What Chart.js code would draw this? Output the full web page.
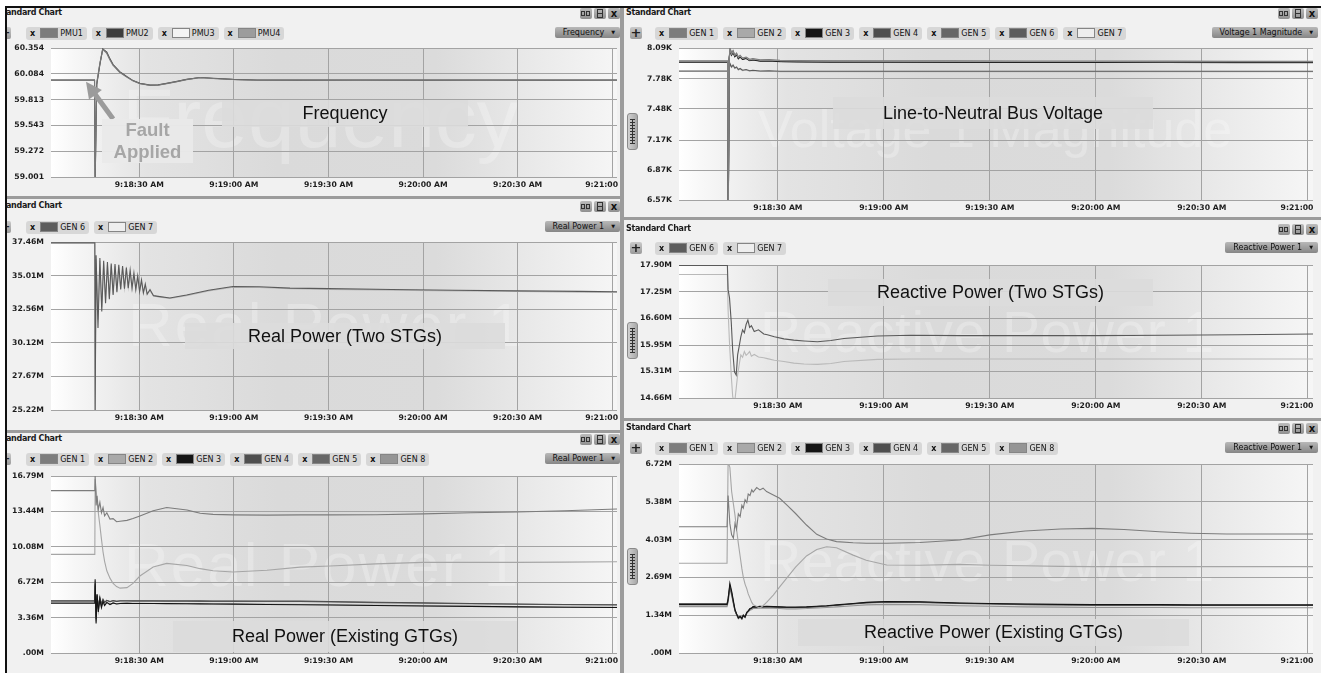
<!DOCTYPE html>
<html>
<head>
<meta charset="utf-8">
<title>Standard Chart</title>
<script src="https://cdn.jsdelivr.net/npm/chart.js@4.4.1/dist/chart.umd.min.js"></script>
<style>
  html, body { margin: 0; padding: 0; }
  body { width: 1321px; height: 673px; position: relative; overflow: hidden; background: #fff;
         font-family: "DejaVu Sans", Verdana, sans-serif; }
  #frame { position: absolute; left: 5px; top: 6px; right: 0; bottom: 0; background: #9c9c9c;
           border-left: 2px solid #111; border-top: 2px solid #111; }
  .panel { position: absolute; background: #f1f1f1; overflow: hidden; }
  .panel > div, .panel > canvas { position: absolute; }
  .plotbg { background: linear-gradient(to right, #ffffff 0%, #f7f7f7 4%, #e3e3e3 17%, #dadada 40%, #dbdbdb 68%, #f6f6f6 100%); }
  .mark { font-family: "Liberation Sans", Arial, sans-serif; color: rgba(255,255,255,0.26); white-space: nowrap; }
  .note { background: rgba(220,220,220,0.9); display: flex; align-items: center; justify-content: center;
          font-family: "Liberation Sans", Arial, sans-serif; font-size: 18px; color: #111; white-space: nowrap; }
  .note.fault { background: rgba(233,233,233,0.96); color: #a6a6a6; font-weight: bold; font-size: 18.5px;
                line-height: 22px; text-align: center; }
  .title { font-size: 8px; font-weight: bold; letter-spacing: -0.3px; color: #1a1a1a; line-height: 10px; white-space: nowrap; }
  .icons { display: flex; gap: 2px; }
  .ic { display: block; width: 12px; height: 11px; background: linear-gradient(#bcbcbc, #8f8f8f); border-radius: 2px;
        position: relative; font-style: normal; }
  .ic1::before, .ic1::after { content: ''; position: absolute; top: 3px; width: 2px; height: 3px; border: 1px solid #333; }
  .ic1::before { left: 1px; } .ic1::after { left: 6px; }
  .ic2::before { content: ''; position: absolute; left: 3px; top: 1px; width: 4px; height: 7px; border: 1px solid #333; }
  .ic2::after { content: ''; position: absolute; left: 3px; top: 5px; width: 6px; height: 1px; background: #333; }
  .ic3 { font: bold 10px/11px "DejaVu Sans", sans-serif; text-align: center; color: #111; }
  .plus { width: 12px; height: 12px; background: linear-gradient(#cacaca, #9a9a9a); border-radius: 2px;
          font: bold 13px/12px "DejaVu Sans", sans-serif; text-align: center; color: #222; }
  .chips { display: flex; white-space: nowrap; }
  .chip { display: inline-flex; align-items: center; height: 13px; padding: 0 4px; margin-right: 5px;
          background: #d7d7d7; border-radius: 3px; font-size: 8px; color: #111; }
  .chip b { font-size: 8px; margin-right: 5px; }
  .chip i { display: inline-block; width: 18px; height: 10px; border: 1px solid #858585; box-sizing: border-box; margin-right: 2px; }
  .dd { height: 11px; padding: 0 5px 0 8px; background: linear-gradient(#b8b8b8, #868686); border-radius: 2px;
        font-size: 8px; line-height: 11px; color: #111; white-space: nowrap; }
  .dd span { font-size: 5px; margin-left: 7px; vertical-align: 1px; }
  .ruler { width: 9px; height: 35px; background: linear-gradient(to right, #d0d0d0, #a8a8a8);
           border: 1px solid #8a8a8a; border-radius: 3px; }
  .ruler i { position: absolute; left: 2px; top: 5px; width: 5px; height: 25px;
             background: repeating-linear-gradient(to bottom, #333 0 1px, transparent 1px 3px); }
  .ruler i::before { content: ''; position: absolute; left: 2px; top: 0; width: 1px; height: 100%; background: #333; }
</style>
</head>
<body>
<div id="frame"></div>
<script>
// x axis: seconds after 9:18:00 AM
const timeMin = 2, timeMax = 181.5;
const xTickSecs = [30, 60, 90, 120, 150, 180];

// Frequency (PMU)
const freqTicks = ['59.001', '59.272', '59.543', '59.813', '60.084', '60.354'];
const freqTime = [2, 15.8, 16.0, 16.5, 17.5, 18.4, 19.7, 20.7, 21.7, 23.8, 26.0, 28.0, 30.2, 33.4, 36.0, 38.7, 42.0, 45.0, 49.3, 53.4, 59.7, 67.3, 80, 100, 120, 140, 160, 181.5];
const pmu1 = [60.016, 60.016, 58.95, 59.98, 60.19, 60.34, 60.30, 60.23, 60.174, 60.10, 60.051, 60.01, 59.981, 59.963, 59.966, 59.981, 60.002, 60.023, 60.044, 60.034, 60.023, 60.016, 60.016, 60.016, 60.016, 60.016, 60.016, 60.016];
const pmu2 = [60.018, 60.018, 58.95, 59.97, 60.18, 60.345, 60.31, 60.24, 60.18, 60.105, 60.055, 60.012, 59.983, 59.965, 59.967, 59.983, 60.004, 60.025, 60.045, 60.036, 60.025, 60.018, 60.017, 60.018, 60.017, 60.018, 60.017, 60.018];
const pmu3 = [60.014, 60.014, 59.2, 59.99, 60.2, 60.335, 60.295, 60.225, 60.17, 60.098, 60.049, 60.008, 59.979, 59.961, 59.964, 59.979, 60.0, 60.021, 60.042, 60.033, 60.022, 60.015, 60.015, 60.014, 60.015, 60.014, 60.015, 60.014];
const pmu4 = [60.015, 60.015, 59.0, 59.98, 60.19, 60.34, 60.3, 60.23, 60.172, 60.1, 60.05, 60.01, 59.98, 59.962, 59.965, 59.98, 60.001, 60.022, 60.043, 60.034, 60.024, 60.016, 60.016, 60.015, 60.016, 60.015, 60.016, 60.015];

// Real power, two STGs (MW)
const stgRealTicks = ['25.22M', '27.67M', '30.12M', '32.56M', '35.01M', '37.46M'];
const stgRealTime = [2, 15.9, 16.0, 16.3, 16.9, 17.5, 18.1, 18.7, 19.3, 19.9, 20.5, 21.1, 21.7, 22.3, 22.9, 23.5, 24.1, 24.7, 25.3, 25.9, 26.5, 27.1, 27.7, 28.3, 28.9, 29.5, 30.1, 30.7, 31.3, 31.9, 32.5, 33.4, 34.5, 36, 39.7, 45, 52, 59.7, 68, 77.8, 90, 110, 130, 150, 170, 181.5];
const gen6Real = [37.40, 37.40, 25.0, 36.5, 31.2, 36.3, 32.4, 36.1, 33.0, 36.0, 33.3, 35.9, 33.6, 35.85, 33.8, 35.8, 34.0, 35.7, 34.05, 35.6, 34.1, 35.4, 34.1, 35.2, 34.0, 35.0, 33.85, 34.7, 33.75, 34.4, 33.65, 34.0, 33.55, 33.5, 33.38, 33.6, 33.95, 34.22, 34.2, 34.1, 34.06, 34.0, 33.95, 33.9, 33.86, 33.84];
const gen7Real = [37.36, 37.36, 25.0, 36.2, 31.8, 36.1, 32.7, 35.9, 33.2, 35.8, 33.4, 35.75, 33.7, 35.7, 33.9, 35.6, 34.05, 35.5, 34.1, 35.4, 34.15, 35.2, 34.1, 35.0, 34.05, 34.8, 33.9, 34.55, 33.8, 34.25, 33.7, 33.9, 33.55, 33.46, 33.35, 33.55, 33.9, 34.17, 34.15, 34.05, 34.0, 33.95, 33.9, 33.85, 33.8, 33.78];

// Real power, existing GTGs (MW)
const gtgRealTicks = ['.00M', '3.36M', '6.72M', '10.08M', '13.44M', '16.79M'];
const gtgRealTime = [2, 15.9, 16.0, 16.3, 16.6, 17.0, 17.5, 18.0, 18.5, 19.0, 19.7, 20.7, 21.7, 22.8, 23.9, 26.1, 28, 30.2, 34.4, 38.7, 45.1, 49.3, 53.4, 59.7, 70.5, 81, 90.5, 105, 120, 135, 149.8, 165, 181.5];
const gen1Real = [15.40, 15.40, 16.9, 14.0, 14.9, 13.6, 14.3, 13.3, 13.8, 13.0, 13.3, 12.7, 12.75, 12.45, 12.5, 12.58, 12.75, 13.0, 13.5, 13.8, 13.57, 13.25, 13.15, 13.1, 13.08, 13.1, 13.1, 13.12, 13.2, 13.3, 13.38, 13.5, 13.66];
const gen2Real = [9.36, 9.36, 16.5, 15.5, 14.5, 13.3, 12.1, 10.8, 9.6, 8.7, 7.8, 7.1, 6.6, 6.3, 6.15, 6.2, 6.6, 7.3, 8.15, 8.5, 8.3, 8.0, 7.8, 7.68, 7.85, 8.15, 8.25, 8.45, 8.6, 8.6, 8.6, 8.62, 8.65];
const gen3Real = [4.72, 4.72, 7.0, 2.8, 5.6, 3.9, 5.1, 4.3, 4.9, 4.5, 4.8, 4.6, 4.75, 4.65, 4.7, 4.72, 4.7, 4.7, 4.69, 4.68, 4.67, 4.66, 4.65, 4.64, 4.6, 4.58, 4.55, 4.5, 4.46, 4.42, 4.38, 4.34, 4.31];
const gen4Real = [4.96, 4.96, 6.6, 3.2, 5.5, 4.3, 5.3, 4.6, 5.1, 4.8, 5.0, 4.88, 4.98, 4.9, 4.95, 4.96, 4.95, 4.95, 4.95, 4.94, 4.94, 4.94, 4.93, 4.93, 4.93, 4.92, 4.88, 4.82, 4.76, 4.7, 4.65, 4.6, 4.57];
const gen5Real = [4.92, 4.92, 6.4, 3.4, 5.4, 4.4, 5.2, 4.65, 5.05, 4.8, 4.98, 4.87, 4.95, 4.9, 4.93, 4.93, 4.92, 4.92, 4.92, 4.91, 4.91, 4.9, 4.9, 4.9, 4.89, 4.88, 4.84, 4.78, 4.72, 4.67, 4.62, 4.58, 4.55];
const gen8Real = [4.76, 4.76, 6.8, 3.0, 5.5, 4.0, 5.0, 4.4, 4.85, 4.55, 4.78, 4.62, 4.74, 4.67, 4.71, 4.73, 4.71, 4.71, 4.7, 4.69, 4.68, 4.67, 4.66, 4.65, 4.62, 4.6, 4.57, 4.52, 4.48, 4.44, 4.4, 4.36, 4.33];

// Line-to-neutral bus voltage (kV)
const voltTicks = ['6.57K', '6.87K', '7.17K', '7.48K', '7.78K', '8.09K'];
const voltTime = [2, 15.8, 15.95, 16.2, 16.5, 16.9, 17.3, 17.8, 18.3, 18.8, 19.3, 20.0, 21.0, 22.0, 22.9, 25, 27.5, 30.6, 35.4, 45, 60, 80, 100, 120, 140, 160, 181.5];
const gen1Volt = [7.963, 7.963, 6.40, 8.00, 8.085, 8.04, 8.065, 8.02, 8.04, 8.0, 8.018, 7.99, 8.0, 7.978, 7.985, 7.972, 7.975, 7.967, 7.965, 7.963, 7.962, 7.961, 7.96, 7.96, 7.959, 7.958, 7.957];
const gen2Volt = [7.957, 7.957, 6.40, 7.99, 8.08, 8.03, 8.06, 8.015, 8.035, 7.995, 8.012, 7.985, 7.995, 7.972, 7.98, 7.967, 7.97, 7.962, 7.96, 7.958, 7.957, 7.956, 7.955, 7.955, 7.954, 7.953, 7.952];
const gen3Volt = [7.95, 7.95, 6.40, 7.98, 8.07, 8.02, 8.05, 8.005, 8.025, 7.985, 8.003, 7.977, 7.987, 7.965, 7.972, 7.96, 7.962, 7.955, 7.953, 7.951, 7.95, 7.949, 7.948, 7.948, 7.947, 7.946, 7.945];
const gen4Volt = [7.948, 7.948, 6.40, 7.98, 8.07, 8.02, 8.048, 8.003, 8.022, 7.983, 8.0, 7.975, 7.985, 7.963, 7.97, 7.958, 7.96, 7.953, 7.951, 7.949, 7.948, 7.947, 7.946, 7.946, 7.945, 7.944, 7.943];
const gen5Volt = [7.955, 7.955, 6.40, 7.99, 8.075, 8.03, 8.055, 8.01, 8.03, 7.99, 8.008, 7.982, 7.992, 7.97, 7.977, 7.965, 7.967, 7.96, 7.958, 7.956, 7.955, 7.954, 7.953, 7.953, 7.952, 7.951, 7.95];
const gen6Volt = [7.86, 7.86, 6.40, 7.88, 7.93, 7.90, 7.92, 7.89, 7.90, 7.875, 7.885, 7.868, 7.875, 7.862, 7.868, 7.86, 7.862, 7.858, 7.858, 7.858, 7.858, 7.858, 7.858, 7.858, 7.858, 7.858, 7.858];
const gen7Volt = [7.855, 7.855, 6.40, 7.875, 7.925, 7.895, 7.915, 7.885, 7.895, 7.87, 7.88, 7.863, 7.87, 7.858, 7.863, 7.855, 7.857, 7.853, 7.853, 7.853, 7.853, 7.853, 7.853, 7.853, 7.853, 7.853, 7.853];

// Reactive power, two STGs (MVAr)
const stgReactTicks = ['14.66M', '15.31M', '15.95M', '16.60M', '17.25M', '17.90M'];
const stgReactTime = [2, 15.7, 15.9, 16.3, 16.8, 17.2, 17.7, 18.2, 18.6, 19.1, 19.5, 20.0, 20.5, 21.0, 21.5, 22.0, 22.5, 23.3, 24.5, 26, 27, 29, 31.7, 34.5, 37.4, 41.2, 45, 48.7, 58.2, 67.6, 81.8, 100, 119, 140, 160, 181.5];
const gen6React = [17.89, 17.89, 17.3, 17.1, 16.5, 15.82, 15.30, 15.22, 15.71, 15.95, 16.15, 16.32, 16.25, 16.45, 16.56, 16.38, 16.42, 16.28, 16.32, 16.22, 16.2, 16.15, 16.1, 16.07, 16.05, 16.03, 16.06, 16.11, 16.17, 16.19, 16.18, 16.18, 16.18, 16.19, 16.2, 16.22];
const gen7React = [17.67, 17.67, 16.8, 16.0, 15.2, 14.7, 14.5, 14.9, 15.22, 15.5, 15.71, 15.65, 15.79, 15.7, 15.74, 15.79, 15.68, 15.72, 15.66, 15.64, 15.62, 15.58, 15.55, 15.51, 15.49, 15.48, 15.5, 15.55, 15.6, 15.61, 15.61, 15.61, 15.61, 15.61, 15.61, 15.61];

// Reactive power, existing GTGs (MVAr)
const gtgReactTicks = ['.00M', '1.34M', '2.69M', '4.03M', '5.38M', '6.72M'];
const gtgReactTime = [2, 15.6, 15.9, 16.4, 16.9, 17.4, 17.85, 18.3, 18.8, 19.3, 19.8, 20.2, 20.7, 21.2, 21.6, 22.1, 22.6, 23.0, 24.0, 24.9, 25.8, 26.8, 28.7, 30.5, 32.5, 35, 38.1, 41, 43.8, 46.6, 51.3, 55, 60.8, 70.2, 81.5, 90, 100, 110, 119, 128, 138, 147, 157, 170, 181.5];
const gen1React = [4.49, 4.49, 5.6, 4.6, 4.2, 4.08, 4.6, 4.4, 4.95, 4.85, 5.25, 5.15, 5.45, 5.35, 5.65, 5.6, 5.8, 5.72, 5.88, 5.8, 5.86, 5.74, 5.62, 5.5, 5.27, 4.96, 4.55, 4.22, 4.05, 3.96, 3.92, 3.90, 3.90, 3.93, 4.02, 4.2, 4.34, 4.41, 4.43, 4.39, 4.31, 4.26, 4.23, 4.23, 4.23];
const gen2React = [3.19, 3.19, 6.8, 6.6, 5.74, 5.3, 4.9, 4.4, 3.9, 3.45, 3.0, 2.7, 2.45, 2.28, 2.1, 1.95, 1.8, 1.72, 1.65, 1.60, 1.68, 1.80, 2.06, 2.35, 2.66, 3.05, 3.45, 3.68, 3.78, 3.74, 3.48, 3.3, 3.13, 3.12, 3.15, 3.12, 3.1, 3.08, 3.07, 3.07, 3.07, 3.07, 3.07, 3.07, 3.07];
const gen3React = [1.73, 1.73, 1.9, 2.48, 2.2, 1.85, 1.55, 1.4, 1.25, 1.3, 1.23, 1.35, 1.28, 1.45, 1.5, 1.58, 1.6, 1.65, 1.64, 1.66, 1.65, 1.66, 1.65, 1.64, 1.63, 1.63, 1.64, 1.66, 1.68, 1.71, 1.76, 1.8, 1.83, 1.82, 1.78, 1.76, 1.74, 1.73, 1.72, 1.72, 1.72, 1.71, 1.71, 1.71, 1.71];
const gen4React = [1.75, 1.75, 1.95, 2.4, 2.15, 1.8, 1.5, 1.36, 1.22, 1.28, 1.2, 1.32, 1.26, 1.42, 1.48, 1.56, 1.6, 1.64, 1.63, 1.65, 1.64, 1.65, 1.64, 1.63, 1.62, 1.62, 1.63, 1.65, 1.67, 1.7, 1.75, 1.79, 1.82, 1.81, 1.77, 1.75, 1.73, 1.72, 1.71, 1.71, 1.71, 1.7, 1.7, 1.7, 1.7];
const gen5React = [1.71, 1.71, 1.85, 2.35, 2.1, 1.78, 1.52, 1.38, 1.27, 1.31, 1.25, 1.34, 1.3, 1.44, 1.5, 1.57, 1.6, 1.64, 1.63, 1.65, 1.64, 1.65, 1.64, 1.63, 1.62, 1.62, 1.63, 1.65, 1.67, 1.7, 1.74, 1.78, 1.81, 1.8, 1.76, 1.74, 1.72, 1.71, 1.7, 1.7, 1.7, 1.69, 1.69, 1.69, 1.69];
const gen8React = [1.65, 1.65, 1.8, 2.3, 2.05, 1.75, 1.5, 1.38, 1.28, 1.3, 1.27, 1.33, 1.31, 1.42, 1.47, 1.52, 1.55, 1.58, 1.58, 1.6, 1.59, 1.6, 1.59, 1.58, 1.57, 1.57, 1.58, 1.6, 1.62, 1.64, 1.68, 1.71, 1.73, 1.72, 1.68, 1.66, 1.64, 1.63, 1.62, 1.62, 1.62, 1.61, 1.61, 1.61, 1.61];

// legend names
const pmuNames = ['PMU1', 'PMU2', 'PMU3', 'PMU4'];
const stgNames = ['GEN 6', 'GEN 7'];
const gtgNames = ['GEN 1', 'GEN 2', 'GEN 3', 'GEN 4', 'GEN 5', 'GEN 8'];
const voltNames = ['GEN 1', 'GEN 2', 'GEN 3', 'GEN 4', 'GEN 5', 'GEN 6', 'GEN 7'];

// styles
const pmuLine = ['#777777', '#4a4a4a', '#cfcfcf', '#9a9a9a'];
const pmuSwatch = ['#7b7b7b', '#3d3d3d', '#f4f4f4', '#9c9c9c'];
const genLine = { 'GEN 1': '#7c7c7c', 'GEN 2': '#a6a6a6', 'GEN 3': '#151515', 'GEN 4': '#4d4d4d',
                  'GEN 5': '#656565', 'GEN 6': '#5a5a5a', 'GEN 7': '#b9b9b9', 'GEN 8': '#939393' };
const genSwatch = { 'GEN 1': '#7d7d7d', 'GEN 2': '#a9a9a9', 'GEN 3': '#151515', 'GEN 4': '#4f4f4f',
                    'GEN 5': '#676767', 'GEN 6': '#5d5d5d', 'GEN 7': '#eeeeee', 'GEN 8': '#959595' };

const tickFont = { family: 'DejaVu Sans', size: 7.7, weight: 'bold' };
const gridColor = '#a3a3a3';

// "Fault Applied" arrow, in data units of the frequency chart
const faultArrow = { from: [21.7, 59.61], to: [13.1, 60.0] };

const arrowPlugin = {
  id: 'faultArrow',
  afterDatasetsDraw(chart) {
    const { ctx, scales } = chart;
    const x1 = scales.x.getPixelForValue(faultArrow.from[0]);
    const y1 = scales.y.getPixelForValue(faultArrow.from[1]);
    const x2 = scales.x.getPixelForValue(faultArrow.to[0]);
    const y2 = scales.y.getPixelForValue(faultArrow.to[1]);
    const a = Math.atan2(y2 - y1, x2 - x1);
    const c = Math.cos(a), s = Math.sin(a);
    ctx.save();
    ctx.strokeStyle = '#9b9b9b';
    ctx.fillStyle = '#9b9b9b';
    ctx.lineWidth = 5;
    ctx.beginPath();
    ctx.moveTo(x1, y1);
    ctx.lineTo(x2 - 12 * c, y2 - 12 * s);
    ctx.stroke();
    ctx.beginPath();
    ctx.moveTo(x2, y2);
    ctx.lineTo(x2 - 16 * c - 8 * s, y2 - 16 * s + 8 * c);
    ctx.lineTo(x2 - 16 * c + 8 * s, y2 - 16 * s - 8 * c);
    ctx.closePath();
    ctx.fill();
    ctx.restore();
  }
};

function clockLabel(sec, last) {
  const total = 9 * 3600 + 18 * 60 + sec;
  const h = Math.floor(total / 3600);
  const m = String(Math.floor(total / 60) % 60).padStart(2, '0');
  const s = String(total % 60).padStart(2, '0');
  // the right-most label is cut short in the original, sitting left of its grid line
  return last ? `${h}:${m}:${s}\u2007\u2007\u2007\u2007` : `${h}:${m}:${s} AM`;
}

const panels = [
  { box: [7, 8, 613, 188], plot: [51, 48, 617, 177], titleX: -10, hy: 5, ly: 25, plusX: -8, chipX: 19, edge: 0,
    dropdown: 'Frequency', rulerY: null, names: pmuNames, swatches: pmuSwatch, colors: pmuLine,
    times: freqTime, series: [pmu1, pmu2, pmu3, pmu4], ticks: freqTicks, arrow: true,
    mark: { text: 'Frequency', x: 122, y: 76, size: 84, ls: 0 },
    notes: [{ text: 'Frequency', x: 222, y: 100, w: 246, h: 27 },
            { text: 'Fault<br>Applied', x: 102, y: 119, w: 91, h: 44, cls: 'fault' }] },
  { box: [7, 199, 613, 231], plot: [51, 242, 617, 410], titleX: -10, hy: 7, ly: 28, plusX: -8, chipX: 19, edge: 0,
    dropdown: 'Real Power 1', rulerY: null, names: stgNames,
    times: stgRealTime, series: [gen6Real, gen7Real], ticks: stgRealTicks,
    mark: { text: 'Real Power 1', x: 128, y: 294, size: 62, ls: 2 },
    notes: [{ text: 'Real Power (Two STGs)', x: 185, y: 323, w: 320, h: 26 }] },
  { box: [7, 433, 613, 240], plot: [51, 476, 617, 653], titleX: -10, hy: 6, ly: 26, plusX: -8, chipX: 19, edge: 0,
    dropdown: 'Real Power 1', rulerY: null, names: gtgNames,
    times: gtgRealTime, series: [gen1Real, gen2Real, gen3Real, gen4Real, gen5Real, gen8Real], ticks: gtgRealTicks,
    mark: { text: 'Real Power 1', x: 124, y: 534, size: 62, ls: 2 },
    notes: [{ text: 'Real Power (Existing GTGs)', x: 173, y: 621, w: 344, h: 31 }] },
  { box: [624, 8, 697, 209], plot: [679, 48, 1313, 200], titleX: 2, hy: 5, ly: 25, plusX: 6, chipX: 31, edge: 3,
    dropdown: 'Voltage 1 Magnitude', rulerY: 105, names: voltNames,
    times: voltTime, series: [gen1Volt, gen2Volt, gen3Volt, gen4Volt, gen5Volt, gen6Volt, gen7Volt], ticks: voltTicks,
    mark: { text: 'Voltage 1 Magnitude', x: 758, y: 103, size: 52, ls: 0 },
    notes: [{ text: 'Line-to-Neutral Bus Voltage', x: 833, y: 97, w: 320, h: 32 }] },
  { box: [624, 220, 697, 198], plot: [679, 265, 1313, 398], titleX: 2, hy: 9, ly: 28, plusX: 6, chipX: 31, edge: 3,
    dropdown: 'Reactive Power 1', rulerY: 102, names: stgNames,
    times: stgReactTime, series: [gen6React, gen7React], ticks: stgReactTicks,
    mark: { text: 'Reactive Power 1', x: 760, y: 304, size: 57, ls: 0.5 },
    notes: [{ text: 'Reactive Power (Two STGs)', x: 828, y: 279, w: 325, h: 27 }] },
  { box: [624, 421, 697, 252], plot: [679, 464, 1313, 653], titleX: 2, hy: 7, ly: 27, plusX: 6, chipX: 31, edge: 3,
    dropdown: 'Reactive Power 1', rulerY: 127, names: gtgNames,
    times: gtgReactTime, series: [gen1React, gen2React, gen3React, gen4React, gen5React, gen8React], ticks: gtgReactTicks,
    mark: { text: 'Reactive Power 1', x: 760, y: 533, size: 57, ls: 0.5 },
    notes: [{ text: 'Reactive Power (Existing GTGs)', x: 798, y: 619, w: 391, h: 27 }] }
];

function drawChart(canvas, p, pl, pr, W) {
  const yVals = p.ticks.map(t => parseFloat(t));
  const colors = p.colors || p.names.map(n => genLine[n]);
  return new Chart(canvas, {
    type: 'line',
    data: {
      labels: p.times,
      datasets: p.series.map((vals, i) => ({
        label: p.names[i],
        data: vals,
        borderColor: colors[i],
        borderWidth: 1.1,
        pointRadius: 0,
        tension: 0,
        fill: false
      }))
    },
    options: {
      responsive: false,
      animation: false,
      events: [],
      layout: { padding: { left: 0, top: 8, right: W - pr, bottom: 2 } },
      plugins: { legend: { display: false }, tooltip: { enabled: false } },
      scales: {
        x: {
          type: 'linear', min: timeMin, max: timeMax,
          grid: { color: gridColor, drawTicks: false },
          border: { display: false },
          ticks: {
            font: tickFont, color: '#1b1b1b', padding: 3, maxRotation: 0, autoSkip: false,
            callback: (v, i, arr) => clockLabel(v, i === arr.length - 1)
          },
          afterBuildTicks: s => { s.ticks = xTickSecs.map(v => ({ value: v })); },
          afterFit: s => { s.height = 16; s.paddingLeft = 0; s.paddingRight = 0; }
        },
        y: {
          min: yVals[0], max: yVals[yVals.length - 1],
          grid: { color: gridColor, drawTicks: false },
          border: { display: false },
          ticks: { font: tickFont, color: '#1b1b1b', padding: 7, callback: (v, i) => p.ticks[i] },
          afterBuildTicks: s => { s.ticks = yVals.map(v => ({ value: v })); },
          afterFit: s => { s.width = pl; s.paddingTop = 0; s.paddingBottom = 0; }
        }
      }
    },
    plugins: p.arrow ? [arrowPlugin] : []
  });
}

function buildPanel(p) {
  const [bx, by, bw, bh] = p.box;
  const panel = document.createElement('div');
  panel.className = 'panel';
  Object.assign(panel.style, { left: bx + 'px', top: by + 'px', width: bw + 'px', height: bh + 'px' });
  document.body.appendChild(panel);

  const put = (cls, html, css) => {
    const d = document.createElement('div');
    d.className = cls;
    d.innerHTML = html;
    Object.assign(d.style, css);
    panel.appendChild(d);
    return d;
  };

  const pl = p.plot[0] - bx, pt = p.plot[1] - by, pr = p.plot[2] - bx, pb = p.plot[3] - by;

  // plot background, faint watermark, chart, annotation boxes
  put('plotbg', '', { left: pl + 'px', top: pt + 'px', width: (pr - pl) + 'px', height: (pb - pt) + 'px' });
  const m = p.mark;
  put('mark', m.text, { left: (m.x - bx) + 'px', top: (m.y - by) + 'px', fontSize: m.size + 'px',
                        lineHeight: m.size + 'px', letterSpacing: m.ls + 'px' });

  const cv = document.createElement('canvas');
  const ch = pb - pt + 26;
  cv.width = bw;
  cv.height = ch;
  Object.assign(cv.style, { left: '0px', top: (pt - 8) + 'px', width: bw + 'px', height: ch + 'px' });
  panel.appendChild(cv);
  drawChart(cv, p, pl, pr, bw);

  p.notes.forEach(n => {
    put('note' + (n.cls ? ' ' + n.cls : ''), n.text,
        { left: (n.x - bx) + 'px', top: (n.y - by) + 'px', width: n.w + 'px', height: n.h + 'px' });
  });

  // header and legend toolbar
  put('title', 'Standard Chart', { left: p.titleX + 'px', top: (p.hy - 5) + 'px' });
  put('icons', '<i class="ic ic1"></i><i class="ic ic2"></i><i class="ic ic3">x</i>',
      { right: p.edge + 'px', top: (p.hy - 5) + 'px' });
  put('plus', '+', { left: p.plusX + 'px', top: (p.ly - 6) + 'px' });
  const sw = p.swatches || p.names.map(n => genSwatch[n]);
  put('chips', p.names.map((n, i) => `<span class="chip"><b>x</b><i style="background:${sw[i]}"></i>${n}</span>`).join(''),
      { left: p.chipX + 'px', top: (p.ly - 6.5) + 'px' });
  put('dd', p.dropdown + '<span>&#9660;</span>', { right: p.edge + 'px', top: (p.ly - 6) + 'px' });
  if (p.rulerY !== null) put('ruler', '<i></i>', { left: '3px', top: p.rulerY + 'px' });
}

panels.forEach(buildPanel);
</script>
</body>
</html>
